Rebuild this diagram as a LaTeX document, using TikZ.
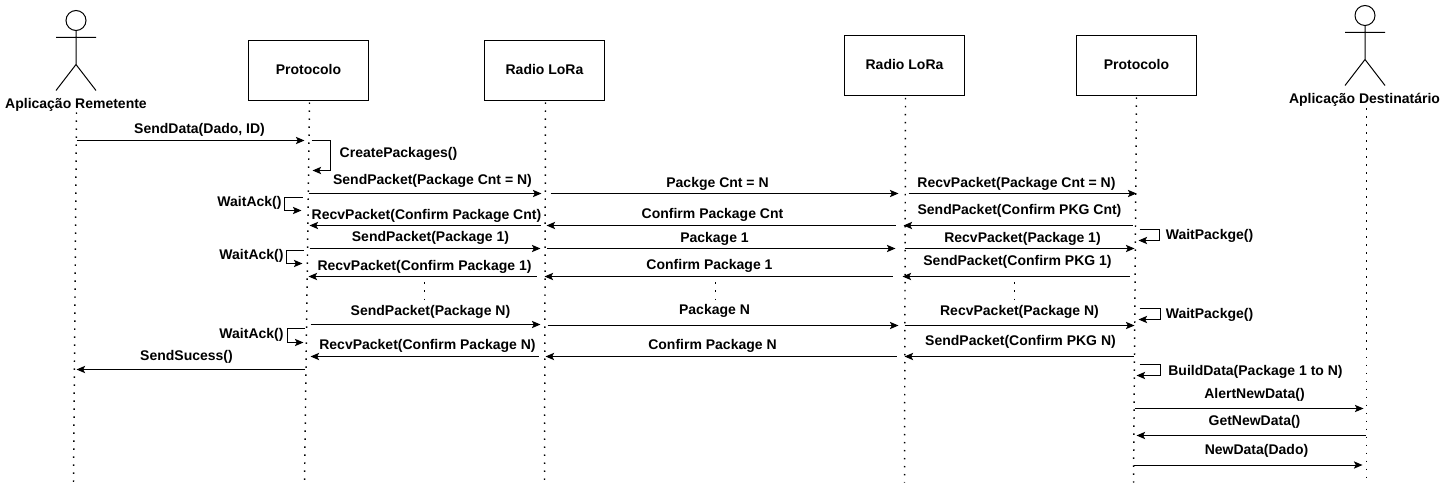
\documentclass[tikz,border=0pt]{standalone}
\usepackage{fontspec}
\setmainfont{Liberation Sans}
\usetikzlibrary{arrows.meta}
\tikzset{
  lifebox/.style={draw,line width=.75pt,minimum width=90pt,minimum height=45pt},
  lifeline/.style={line width=1.1pt,dash pattern=on 1.1pt off 4.9pt},
  msg/.style={->,line width=.75pt},
  txt/.style={font=\bfseries\fontsize{10.5}{12}\selectfont,inner sep=0pt},
  actorfig/.pic={
    \draw[line width=.75pt] (0,-17) circle [radius=7.5pt];
    \draw[line width=.75pt] (0,-7) -- (0,27) (-20,0) -- (20,0) (-20,53) -- (0,27) -- (20,53);
  }
}
\begin{document}
\begin{tikzpicture}[x=.75pt,y=-.75pt,shift={(.5,.5)},>={Stealth[length=6.5pt,width=5.5pt,inset=1.5pt]}]
  \useasboundingbox (-.5,-.5) rectangle (1444.5,487.5);
  % caixas e atores
  \node[lifebox] (proto1) at (308,70)   {};
  \node[lifebox] (radio1) at (544,70)   {};
  \node[lifebox] (radio2) at (904,65.5) {};
  \node[lifebox] (proto2) at (1136,65)  {};
  \node[txt] (tproto1) at (308,69)  {Protocolo};
  \node[txt] (tradio1) at (544,69)  {Radio LoRa};
  \node[txt] (tradio2) at (904,64)  {Radio LoRa};
  \node[txt] (tproto2) at (1136,64) {Protocolo};
  \pic at (75.5,37) {actorfig};
  \pic at (1364.5,32) {actorfig};
  \node[txt] (rem)  at (75.5,104.5) {Aplicação Remetente};
  \node[txt] (dest) at (1364,99.5)  {Aplicação Destinatário};

  % linhas de vida
  \coordinate (remtop)  at (76,112);
  \coordinate (rembot)  at (73,482);
  \coordinate (p1bot)   at (304,482);
  \coordinate (r1bot)   at (544,482);
  \coordinate (r2bot)   at (904,482);
  \coordinate (p2bot)   at (1133,482);
  \coordinate (desttop) at (1366,108);
  \coordinate (destbot) at (1366,482);
  \draw[lifeline] (remtop) -- (rembot);
  \draw[lifeline] (proto1) ++(1,32) -- (p1bot);
  \draw[lifeline] (radio1) ++(1,32) -- (r1bot);
  \draw[lifeline] (radio2) ++(1,32) -- (r2bot);
  \draw[lifeline] (proto2) ++(0,32) -- (p2bot);
  \draw[lifeline] (desttop) -- (destbot);

  % pontos de cada mensagem
  \foreach \n/\x/\y in {a1/76/140,a2/304/140,b1/308/193,b2/541/193,c1/550/193,c2/898/193,d1/908/193,d2/1136/193,
    e1/540/225,e2/309/225,f1/895/225,f2/546/225,g1/1132/225,g2/903/225,
    h1/309/248,h2/540/248,i1/546/248,i2/895/248,j1/904/248,j2/1134/248,
    k1/536/276,k2/308/276,l1/892/276,l2/544/276,m1/1129/276,m2/902/276,
    n1/310/324,n2/540/324,o1/547/325,o2/898/325,p1/904/325,p2/1134/325,
    q1/538/356,q2/310/356,r1/896/356,r2/545/356,s1/1133/356,s2/904/356,
    t1/304/369,t2/76/369,u1/1134/408,u2/1363/408,v1/1365/435,v2/1136/435,w1/1133/464.5,w2/1362/464.5,
    dota/424/282,dotb/424/300,dotc/715/282,dotd/715/300,dote/1014/282,dotf/1014/300}
    \coordinate (\n) at (\x,\y);
  \foreach \n/\m in {a1/a2,b1/b2,c1/c2,d1/d2,e1/e2,f1/f2,g1/g2,h1/h2,i1/i2,j1/j2,k1/k2,l1/l2,m1/m2,
    n1/n2,o1/o2,p1/p2,q1/q2,r1/r2,s1/s2,t1/t2,u1/u2,v1/v2,w1/w2}
    \draw[msg] (\n) -- (\m);
  \draw[lifeline] (dota) -- (dotb) (dotc) -- (dotd) (dote) -- (dotf);

  % chamadas para si mesmo
  \foreach \n/\xa/\xb/\xc/\ya/\yb in {ca/311/330/312/140/170,wa/302/284/301/197/210,wb/303/286/302/250/263,wc/304/287/303/328/342,
    pa/1139/1159/1138/229/240,pb/1139/1160/1138/308/319,pc/1139/1160/1136/364/375}{
    \coordinate (\n1) at (\xa,\ya);
    \coordinate (\n2) at (\xb,\ya);
    \coordinate (\n3) at (\xb,\yb);
    \coordinate (\n4) at (\xc,\yb);
    \draw[msg] (\n1) -- (\n2) -- (\n3) -- (\n4);
  }

  % textos
  \node[txt] (tsend)  at (199,129)  {SendData(Dado, ID)};
  \node[txt] (tcreat) at (398,153)  {CreatePackages()};
  \node[txt] (tb)     at (432,180)  {SendPacket(Package Cnt = N)};
  \node[txt] (tc)     at (717,183)  {Packge Cnt = N};
  \node[txt] (td)     at (1016,183) {RecvPacket(Package Cnt = N)};
  \node[txt] (tw1)    at (249,202)  {WaitAck()};
  \node[txt] (te)     at (426,215)  {RecvPacket(Confirm Package Cnt)};
  \node[txt] (tf)     at (712,214)  {Confirm Package Cnt};
  \node[txt] (tg)     at (1019,210) {SendPacket(Confirm PKG Cnt)};
  \node[txt] (tp1)    at (1209,235) {WaitPackge()};
  \node[txt] (th)     at (430,237)  {SendPacket(Package 1)};
  \node[txt] (ti)     at (714,238)  {Package 1};
  \node[txt] (tj)     at (1022,238) {RecvPacket(Package 1)};
  \node[txt] (tw2)    at (251,255)  {WaitAck()};
  \node[txt] (tk)     at (424,266)  {RecvPacket(Confirm Package 1)};
  \node[txt] (tl)     at (709,265)  {Confirm Package 1};
  \node[txt] (tm)     at (1017,261) {SendPacket(Confirm PKG 1)};
  \node[txt] (tn)     at (430,311)  {SendPacket(Package N)};
  \node[txt] (to)     at (714,310)  {Package N};
  \node[txt] (tq2)    at (1019,311) {RecvPacket(Package N)};
  \node[txt] (tp2)    at (1209,314) {WaitPackge()};
  \node[txt] (tw3)    at (251,334)  {WaitAck()};
  \node[txt] (tq)     at (427,345)  {RecvPacket(Confirm Package N)};
  \node[txt] (tr)     at (712,345)  {Confirm Package N};
  \node[txt] (ts)     at (1020,341) {SendPacket(Confirm PKG N)};
  \node[txt] (tt)     at (186,356)  {SendSucess()};
  \node[txt] (tbuild) at (1255,371) {BuildData(Package 1 to N)};
  \node[txt] (tu)     at (1254,394) {AlertNewData()};
  \node[txt] (tv)     at (1254,421) {GetNewData()};
  \node[txt] (tx)     at (1256,450) {NewData(Dado)};
\end{tikzpicture}
\end{document}
